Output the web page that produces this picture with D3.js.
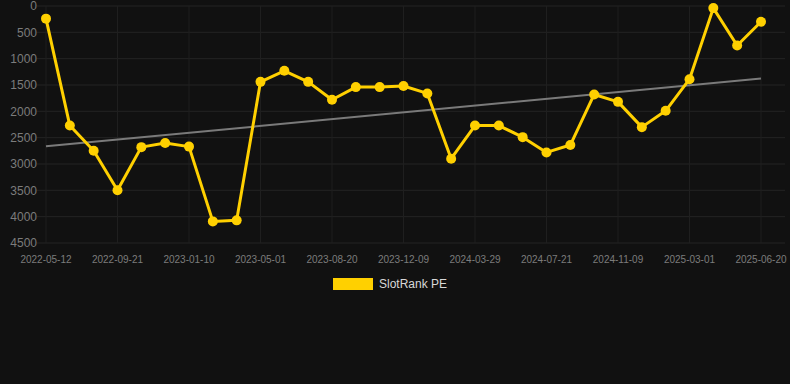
<!DOCTYPE html>
<html><head><meta charset="utf-8">
<script src="https://cdn.jsdelivr.net/npm/d3@7"></script>
<style>html,body{margin:0;padding:0;background:#111111;}svg{display:block;}</style>
</head><body>
<svg id="c" width="790" height="384"></svg>
<script>
const dates = ["2022-05-12","2022-07-09","2022-08-15","2022-09-21","2022-10-28","2022-12-04","2023-01-10","2023-02-16","2023-03-25","2023-05-01","2023-06-07","2023-07-14","2023-08-20","2023-09-26","2023-11-02","2023-12-09","2024-01-15","2024-02-21","2024-03-29","2024-05-05","2024-06-13","2024-07-21","2024-08-27","2024-10-03","2024-11-09","2024-12-16","2025-01-22","2025-03-01","2025-04-07","2025-05-14","2025-06-20"];
const values = [240,2270,2750,3500,2680,2600,2670,4090,4070,1440,1230,1440,1780,1540,1540,1520,1660,2900,2270,2270,2490,2780,2640,1680,1820,2300,1990,1390,40,750,300];
const yTicks = [0,500,1000,1500,2000,2500,3000,3500,4000,4500];
const seriesName = "SlotRank PE";

const svg = d3.select("#c");
const font = "'Liberation Sans', Arial, sans-serif";
const yellow = "#ffd000";
const x = d3.scalePoint().domain(dates).range([46, 761]);
const y = d3.scaleLinear().domain([0, 4500]).range([6, 243]);
const gridL = 37, gridR = 785;

// horizontal grid
svg.append("g").selectAll("line").data(yTicks).join("line")
  .attr("x1", gridL).attr("x2", gridR)
  .attr("y1", d => y(d)).attr("y2", d => y(d))
  .attr("stroke", "#242424").attr("stroke-width", 1);
// vertical grid every 3rd
const xTickDates = dates.filter((d, i) => i % 3 === 0);
svg.append("g").selectAll("line").data(xTickDates).join("line")
  .attr("x1", d => x(d)).attr("x2", d => x(d))
  .attr("y1", y(0)).attr("y2", y(4500))
  .attr("stroke", "#1f1f1f").attr("stroke-width", 1);

// y labels
svg.append("g").selectAll("text").data(yTicks).join("text")
  .attr("x", 37).attr("y", d => y(d)).attr("dy", "0.35em")
  .attr("text-anchor", "end").attr("font-family", font).attr("font-size", 12)
  .attr("fill", "#7c7c7c").text(d => d);
// x labels
svg.append("g").selectAll("text").data(xTickDates).join("text")
  .attr("x", d => x(d)).attr("y", 263)
  .attr("text-anchor", "middle").attr("font-family", font).attr("font-size", 10)
  .attr("fill", "#7c7c7c").text(d => d);

// trend line (least squares)
const n = values.length;
const idx = d3.range(n);
const mx = d3.mean(idx), my = d3.mean(values);
const slope = d3.sum(idx, i => (i - mx) * (values[i] - my)) / d3.sum(idx, i => (i - mx) ** 2);
const icpt = my - slope * mx;
svg.append("line")
  .attr("x1", x(dates[0])).attr("y1", y(icpt))
  .attr("x2", x(dates[n - 1])).attr("y2", y(icpt + slope * (n - 1)))
  .attr("stroke", "#7a7a7a").attr("stroke-width", 2);

// series line
const line = d3.line().x((d, i) => x(dates[i])).y(d => y(d));
svg.append("path").datum(values).attr("d", line)
  .attr("fill", "none").attr("stroke", yellow).attr("stroke-width", 3)
  .attr("stroke-linejoin", "round");
svg.append("g").selectAll("circle").data(values).join("circle")
  .attr("cx", (d, i) => x(dates[i])).attr("cy", d => y(d)).attr("r", 5)
  .attr("fill", yellow);

// legend
svg.append("rect").attr("x", 333).attr("y", 278).attr("width", 40).attr("height", 12)
  .attr("fill", yellow);
svg.append("text").attr("x", 379).attr("y", 284).attr("dy", "0.35em")
  .attr("font-family", font).attr("font-size", 12).attr("fill", "#d8d8d8").text(seriesName);
</script>
</body></html>
